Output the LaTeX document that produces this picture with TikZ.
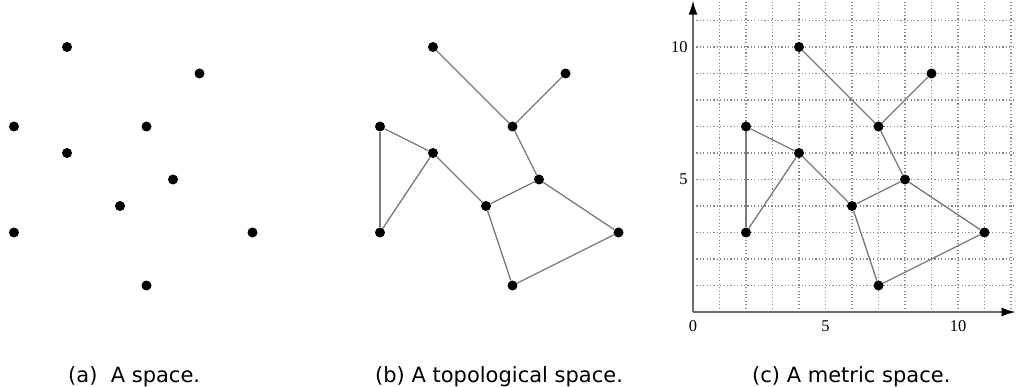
\documentclass[tikz,border=0pt]{standalone}
\usepackage{fontspec}
\setmainfont{DejaVu Sans}
\newfontfamily\axisfont{Liberation Serif}
\usetikzlibrary{arrows.meta}
\definecolor{edgegray}{HTML}{7A7A7A}
\definecolor{axisgray}{HTML}{6A6A6A}
\definecolor{gridgray}{HTML}{8A8A8A}
\tikzset{
  dot/.style={circle, fill=black, draw=none, inner sep=0pt, minimum size=10pt},
  edge/.style={draw=edgegray, line width=1.3pt},
  griddot/.style={draw=gridgray, line width=1.1pt, dash pattern=on 1.1pt off 2.3pt},
  axisline/.style={draw=axisgray, line width=1.5pt, -{Latex[length=14pt,width=9pt,fill=black,color=black]}},
  axlabel/.style={font=\axisfont\fontsize{16.5}{18}\selectfont, inner sep=0pt},
  caption/.style={font=\fontsize{21}{24}\selectfont, inner sep=0pt, anchor=base west}
}
\begin{document}
\begin{tikzpicture}[x=1pt, y=-1pt]
\useasboundingbox (0,0) rectangle (1016,387);

% ---------- (a) ----------
\begin{scope}[shift={(-39,312)}, x=26.5pt, y=26.5pt]
  \node[dot] (a1) at (4,10) {};
  \node[dot] (a2) at (9,9) {};
  \node[dot] (a3) at (2,7) {};
  \node[dot] (a4) at (7,7) {};
  \node[dot] (a5) at (4,6) {};
  \node[dot] (a6) at (8,5) {};
  \node[dot] (a7) at (6,4) {};
  \node[dot] (a8) at (2,3) {};
  \node[dot] (a9) at (11,3) {};
  \node[dot] (a10) at (7,1) {};
\end{scope}

% ---------- (b) ----------
\begin{scope}[shift={(327,312)}, x=26.5pt, y=26.5pt]
  \node[dot] (b1) at (4,10) {};
  \node[dot] (b2) at (9,9) {};
  \node[dot] (b3) at (2,7) {};
  \node[dot] (b4) at (7,7) {};
  \node[dot] (b5) at (4,6) {};
  \node[dot] (b6) at (8,5) {};
  \node[dot] (b7) at (6,4) {};
  \node[dot] (b8) at (2,3) {};
  \node[dot] (b9) at (11,3) {};
  \node[dot] (b10) at (7,1) {};
  \begin{scope}[on background layer/.try]
  \end{scope}
  \path[edge] (b1) -- (b4);
  \path[edge] (b4) -- (b2);
  \path[edge] (b4) -- (b6);
  \path[edge] (b3) -- (b8);
  \path[edge] (b3) -- (b5);
  \path[edge] (b5) -- (b8);
  \path[edge] (b5) -- (b7);
  \path[edge] (b7) -- (b6);
  \path[edge] (b6) -- (b9);
  \path[edge] (b9) -- (b10);
  \path[edge] (b10) -- (b7);
\end{scope}

% ---------- (c) ----------
\begin{scope}[shift={(693,312)}, x=26.5pt, y=26.5pt]
  \foreach \k in {1,...,12} { \path[griddot] (\k,0) -- (\k,11.7); }
  \foreach \k in {1,...,11} { \path[griddot] (0,\k) -- (12.19,\k); }
  \coordinate (O) at (0,0);
  \coordinate (xend) at (12.17,0);
  \coordinate (yend) at (0,11.75);
  \path[axisline] (O) -- (xend);
  \path[axisline] (O) -- (yend);
  \node[axlabel] (lx0) at (0,-0.53) {0};
  \node[axlabel] (lx5) at (5,-0.53) {5};
  \node[axlabel] (lx10) at (10,-0.53) {10};
  \node[axlabel, anchor=east] (ly5) at (-0.2,5) {5};
  \node[axlabel, anchor=east] (ly10) at (-0.2,10) {10};
  \node[dot] (c1) at (4,10) {};
  \node[dot] (c2) at (9,9) {};
  \node[dot] (c3) at (2,7) {};
  \node[dot] (c4) at (7,7) {};
  \node[dot] (c5) at (4,6) {};
  \node[dot] (c6) at (8,5) {};
  \node[dot] (c7) at (6,4) {};
  \node[dot] (c8) at (2,3) {};
  \node[dot] (c9) at (11,3) {};
  \node[dot] (c10) at (7,1) {};
  \path[edge] (c1) -- (c4);
  \path[edge] (c4) -- (c2);
  \path[edge] (c4) -- (c6);
  \path[edge] (c3) -- (c8);
  \path[edge] (c3) -- (c5);
  \path[edge] (c5) -- (c8);
  \path[edge] (c5) -- (c7);
  \path[edge] (c7) -- (c6);
  \path[edge] (c6) -- (c9);
  \path[edge] (c9) -- (c10);
  \path[edge] (c10) -- (c7);
\end{scope}

% ---------- captions ----------
\node[caption] (capa) at (68,382) {(a)\ \ A space.};
\node[caption] (capb) at (375,382) {(b) A topological space.};
\node[caption] (capc) at (752,382) {(c) A metric space.};
\end{tikzpicture}
\end{document}
